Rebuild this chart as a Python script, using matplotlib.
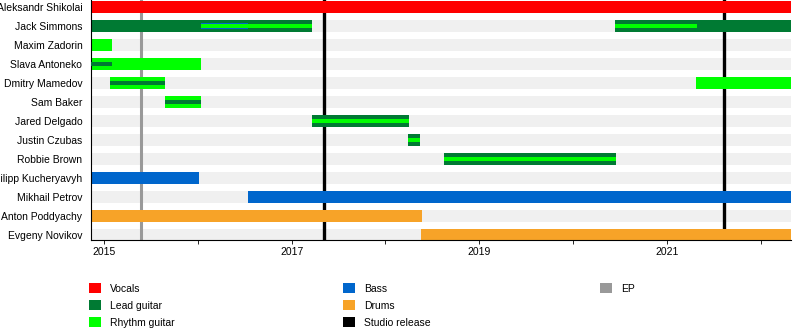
import matplotlib
matplotlib.use("Agg")
import matplotlib.pyplot as plt
from matplotlib.patches import Patch

plt.rcParams['font.family'] = ['Liberation Sans', 'DejaVu Sans']

members = ["Aleksandr Shikolai", "Jack Simmons", "Maxim Zadorin", "Slava Antoneko",
           "Dmitry Mamedov", "Sam Baker", "Jared Delgado", "Justin Czubas",
           "Robbie Brown", "Filipp Kucheryavyh", "Mikhail Petrov", "Anton Poddyachy",
           "Evgeny Novikov"]

x_start, x_end = 2014.86, 2022.32

# (member, start, end) -- full-height bars
vocals = [("Aleksandr Shikolai", 2014.86, 2022.32)]
lead_full = [("Jack Simmons", 2014.86, 2017.22), ("Jack Simmons", 2020.45, 2022.32),
             ("Jared Delgado", 2017.22, 2018.25), ("Justin Czubas", 2018.24, 2018.37),
             ("Robbie Brown", 2018.62, 2020.46)]
rhythm_full = [("Maxim Zadorin", 2014.86, 2015.09), ("Slava Antoneko", 2014.86, 2016.04),
               ("Dmitry Mamedov", 2015.07, 2015.65), ("Dmitry Mamedov", 2021.31, 2022.32),
               ("Sam Baker", 2015.65, 2016.04)]
bass_full = [("Filipp Kucheryavyh", 2014.86, 2016.01), ("Mikhail Petrov", 2016.54, 2022.32)]
drums_full = [("Anton Poddyachy", 2014.86, 2018.39), ("Evgeny Novikov", 2018.38, 2022.32)]

# secondary roles (thin bars)
bass_mid = [("Jack Simmons", 2016.04, 2016.54)]
rhythm_thin = [("Jack Simmons", 2016.04, 2017.22), ("Jack Simmons", 2020.45, 2021.32),
               ("Jared Delgado", 2017.22, 2018.25), ("Justin Czubas", 2018.24, 2018.37),
               ("Robbie Brown", 2018.62, 2020.46)]
lead_thin = [("Slava Antoneko", 2014.86, 2015.09), ("Dmitry Mamedov", 2015.07, 2015.65),
             ("Sam Baker", 2015.65, 2016.04)]

ep_releases = [2015.40]
studio_releases = [2017.34, 2021.61]

year_ticks = [2015, 2016, 2017, 2018, 2019, 2020, 2021, 2022]
year_labels = ["2015", "", "2017", "", "2019", "", "2021", ""]

colors = {"Vocals": "#ff0000", "Lead guitar": "#007a33", "Rhythm guitar": "#00ff00",
          "Bass": "#0066cc", "Drums": "#f7a328", "Studio release": "#000000", "EP": "#999999"}

fig = plt.figure(figsize=(8, 3.3), dpi=100)
ax = fig.add_axes([90.7/800, 1-240/330, (791-90.7)/800, 240/330])

row = {m: i for i, m in enumerate(members)}
H = 0.63

def draw(items, color, h, z):
    for m, s, e in items:
        ax.barh(row[m], e - s, left=s, height=h, color=color, zorder=z, linewidth=0)

# background bands
ax.barh(range(len(members)), [x_end - x_start]*len(members), left=x_start,
        height=H, color="#f0f0f0", zorder=0, linewidth=0)

for x in ep_releases:
    ax.axvline(x, color=colors["EP"], lw=2.2, zorder=1)
for x in studio_releases:
    ax.axvline(x, color=colors["Studio release"], lw=2.4, zorder=1)

draw(vocals, colors["Vocals"], H, 2)
draw(lead_full, colors["Lead guitar"], H, 2)
draw(rhythm_full, colors["Rhythm guitar"], H, 2)
draw(bass_full, colors["Bass"], H, 2)
draw(drums_full, colors["Drums"], H, 2)
draw(bass_mid, colors["Bass"], 0.34, 3)
draw(rhythm_thin, colors["Rhythm guitar"], 0.2, 4)
draw(lead_thin, colors["Lead guitar"], 0.2, 4)

ax.set_xlim(x_start, x_end)
ax.set_ylim(len(members) - 1 + 5/19, -7/19)
ax.set_yticks(range(len(members)))
ax.set_yticklabels(members, fontsize=7.5)
ax.tick_params(axis='y', length=0, pad=6)
ax.set_xticks(year_ticks)
ax.set_xticklabels(year_labels, fontsize=7.5)
ax.tick_params(axis='x', length=3, width=0.6, pad=2)
for s in ["top", "right"]:
    ax.spines[s].set_visible(False)
for s in ["left", "bottom"]:
    ax.spines[s].set_linewidth(0.8)

groups = [["Vocals", "Lead guitar", "Rhythm guitar"],
          ["Bass", "Drums", "Studio release"],
          ["EP"]]
xs = [89, 343, 600]
for g, xp in zip(groups, xs):
    handles = [Patch(facecolor=colors[k], edgecolor='none', label=k) for k in g]
    fig.legend(handles=handles, loc="upper left", bbox_to_anchor=(xp/800, 1-283/330),
               frameon=False, fontsize=7.5, borderpad=0, borderaxespad=0,
               handlelength=1.15, handleheight=1.15, handletextpad=0.85,
               labelspacing=0.6)

fig.savefig("out.png", dpi=100)
